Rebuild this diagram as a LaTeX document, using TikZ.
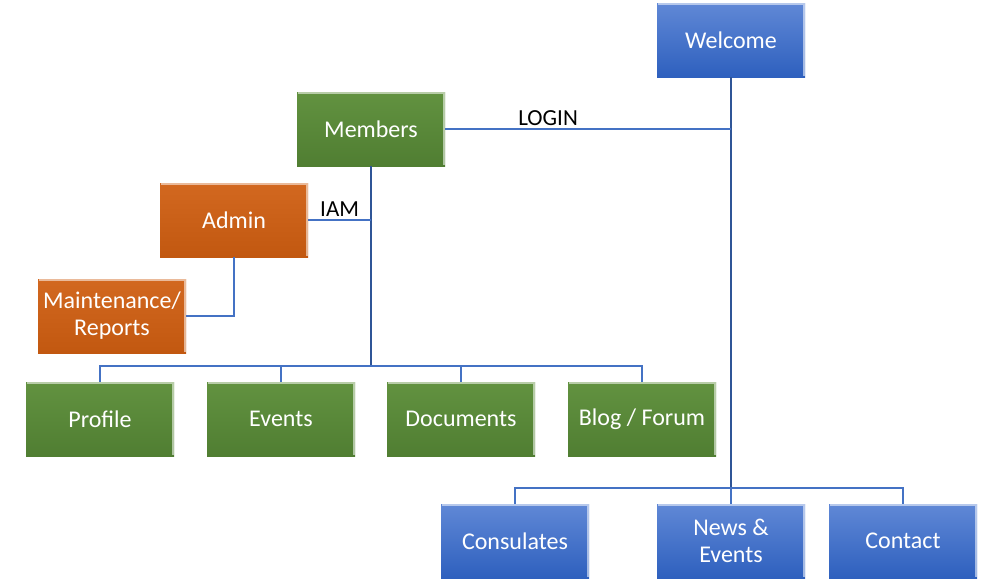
\documentclass[tikz,border=0pt]{standalone}
\usepackage{fontspec}
\setmainfont{Carlito}
\definecolor{bluetop}{RGB}{96,136,214}
\definecolor{bluebot}{RGB}{46,96,190}
\definecolor{greentop}{RGB}{98,146,64}
\definecolor{greenbot}{RGB}{80,126,50}
\definecolor{orangetop}{RGB}{210,104,32}
\definecolor{orangebot}{RGB}{194,88,16}
\definecolor{linkblue}{RGB}{68,114,196}
\definecolor{trunkblue}{RGB}{47,85,151}
\tikzset{
  box/.style={minimum width=148pt, minimum height=74pt, inner sep=0pt,
    text=white, align=center, font=\fontsize{24}{27}\selectfont,
    path picture={
      \draw[white, opacity=0.55, line width=2pt]
        ([xshift=1pt,yshift=-1pt]path picture bounding box.north west) --
        ([xshift=-1pt,yshift=-1pt]path picture bounding box.north east) --
        ([xshift=-1pt,yshift=1pt]path picture bounding box.south east);}},
  bluebox/.style={box, top color=bluetop, bottom color=bluebot},
  greenbox/.style={box, top color=greentop, bottom color=greenbot},
  orangebox/.style={box, top color=orangetop, bottom color=orangebot},
  link/.style={draw=linkblue, line width=1.2pt},
  trunk/.style={draw=trunkblue, line width=1.8pt},
  lbl/.style={text=black, font=\fontsize{23}{26}\selectfont, inner sep=3pt}
}
\begin{document}
\begin{tikzpicture}[x=1pt,y=-1pt]
\useasboundingbox (0,0) rectangle (993,582);
% nodes
\node[bluebox] (welcome) at (731,40) {Welcome};
\node[greenbox] (members) at (371,129) {Members};
\node[orangebox] (admin) at (234,220) {Admin};
\node[orangebox] (maint) at (112,316) {Maintenance/\\Reports};
\node[greenbox] (profile) at (100,419) {Profile};
\node[greenbox] (events) at (281,419) {Events};
\node[greenbox] (docs) at (461,419) {Documents};
\node[greenbox] (blog) at (642,419) {Blog / Forum};
\node[bluebox] (consulates) at (515,541) {Consulates};
\node[bluebox] (news) at (731,541) {News \&\\Events};
\node[bluebox] (contact) at (903,541) {Contact};
% bus points
\coordinate (wbus) at (731,488);
\coordinate (mbus) at (371,366);
% connectors
\draw[trunk] (welcome.south) -- (wbus);
\draw[link] (consulates.north) |- (wbus);
\draw[link] (contact.north) |- (wbus);
\draw[link] (news.north) -- (wbus);
\draw[link] (members.east) -- node[lbl, above, pos=0.36] {LOGIN} (members.east -| welcome.south);
\draw[trunk] (members.south) -- (mbus);
\draw[link] (admin.east) -- node[lbl, above, pos=0.5] {IAM} (admin.east -| members.south);
\draw[link] (admin.south) |- (maint.east);
\draw[link] (profile.north) |- (mbus);
\draw[link] (events.north) |- (mbus);
\draw[link] (docs.north) |- (mbus);
\draw[link] (blog.north) |- (mbus);
\end{tikzpicture}
\end{document}
